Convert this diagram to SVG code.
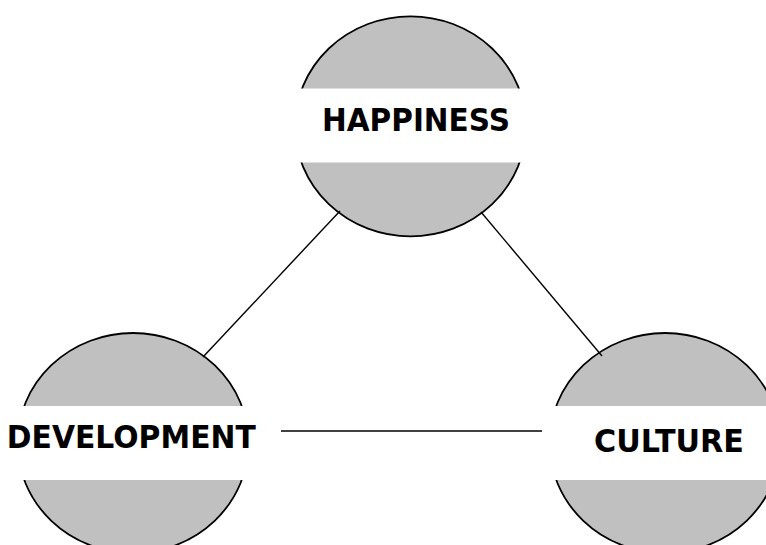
<svg xmlns="http://www.w3.org/2000/svg" width="766" height="545" viewBox="0 0 766 545">
<style>
.disc{fill:#c0c0c0;stroke:#000;stroke-width:1.8}
.band{fill:#fff;stroke:none}
.lbl{font-family:"DejaVu Sans",Verdana,sans-serif;font-weight:bold;font-size:31.5px;fill:#000;text-anchor:middle}
.conn{stroke:#000;stroke-width:1.4;fill:none}
</style>
<rect width="766" height="545" fill="#fff"/>
<g id="happiness">
<ellipse class="disc" cx="410.5" cy="126.3" rx="115.5" ry="110"/>
<rect class="band" x="290" y="88.5" width="242" height="74"/>
<text class="lbl" x="416" y="130.7" textLength="188" lengthAdjust="spacingAndGlyphs">HAPPINESS</text>
</g>
<g id="development">
<ellipse class="disc" cx="133" cy="443" rx="115.5" ry="110"/>
<rect class="band" x="0" y="406" width="252" height="74"/>
<text class="lbl" x="131.3" y="448.3" textLength="249" lengthAdjust="spacingAndGlyphs">DEVELOPMENT</text>
</g>
<g id="culture">
<ellipse class="disc" cx="665" cy="443" rx="115.5" ry="110"/>
<rect class="band" x="546" y="406" width="220" height="74"/>
<text class="lbl" x="669" y="451.7" textLength="150" lengthAdjust="spacingAndGlyphs">CULTURE</text>
</g>
<g id="connectors">
<line class="conn" x1="340" y1="211" x2="203" y2="357"/>
<line class="conn" x1="481" y1="212" x2="602" y2="356"/>
<line class="conn" x1="281" y1="431" x2="542" y2="431"/>
</g>
</svg>
